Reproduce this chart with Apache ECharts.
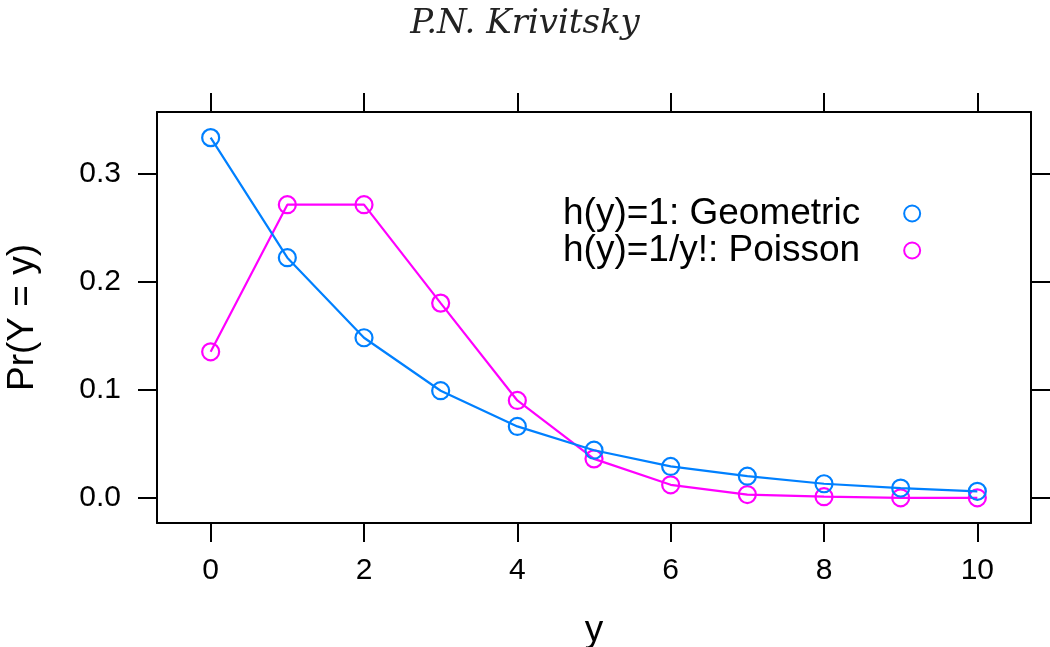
<!DOCTYPE html>
<html>
<head>
<meta charset="utf-8">
<script src="https://cdn.jsdelivr.net/npm/echarts@6/dist/echarts.min.js"></script>
<style>
  html, body { margin: 0; padding: 0; background: #fff; }
  #chart { width: 1050px; height: 647px; }
</style>
</head>
<body>
<div id="chart"></div>
<script>
const titleText = 'P.N. Krivitsky';
const yValues = [0, 1, 2, 3, 4, 5, 6, 7, 8, 9, 10];
const geometricName = 'h(y)=1: Geometric';
const poissonName = 'h(y)=1/y!: Poisson';
const geometric = [0.333, 0.222, 0.148, 0.099, 0.066, 0.044, 0.029, 0.020, 0.013, 0.009, 0.006];
const poisson = [0.135, 0.271, 0.271, 0.180, 0.090, 0.036, 0.012, 0.003, 0.001, 0.000, 0.000];
const xTicks = [0, 2, 4, 6, 8, 10];
const yTicks = [0, 0.1, 0.2, 0.3];
const xLabel = 'y';
const yLabel = 'Pr(Y = y)';

const blue = '#0080ff';
const magenta = '#ff00ff';
const fontFam = '"Liberation Sans", Arial, Helvetica, sans-serif';

const xRange = { min: -0.7, max: 10.7 };
const yRange = { min: -0.0233, max: 0.3567 };

const axisLineStyle = { show: true, onZero: false, lineStyle: { color: '#000', width: 2 } };
const tickStyle = { length: 19, lineStyle: { color: '#000', width: 2 } };

const chart = echarts.init(document.getElementById('chart'), null, { renderer: 'canvas' });

chart.setOption({
  animation: false,
  backgroundColor: '#fff',
  title: {
    text: titleText,
    left: 'center',
    top: 2,
    textStyle: { fontFamily: '"DejaVu Serif", serif', fontStyle: 'italic', fontWeight: 'normal', fontSize: 34, color: '#222' }
  },
  grid: { left: 157, right: 19, top: 112, bottom: 124, containLabel: false, outerBoundsMode: 'none' },
  legend: {
    orient: 'vertical',
    left: 558,
    top: 190,
    align: 'right',
    icon: 'circle',
    itemWidth: 94,
    itemHeight: 16,
    itemGap: 0,
    textStyle: { fontFamily: fontFam, fontSize: 37, color: '#000', lineHeight: 37 },
    data: [
      { name: geometricName, itemStyle: { color: 'transparent', borderColor: blue, borderWidth: 2 } },
      { name: poissonName, itemStyle: { color: 'transparent', borderColor: magenta, borderWidth: 2 } }
    ]
  },
  xAxis: [
    {
      type: 'value', position: 'bottom', min: xRange.min, max: xRange.max,
      axisLine: axisLineStyle,
      axisTick: Object.assign({ customValues: xTicks }, tickStyle),
      axisLabel: { customValues: xTicks, margin: 33, fontFamily: fontFam, fontSize: 30, color: '#000' },
      splitLine: { show: false },
      name: xLabel, nameLocation: 'middle', nameGap: 89,
      nameTextStyle: { fontFamily: fontFam, fontSize: 37, color: '#000' }
    },
    {
      type: 'value', position: 'top', min: xRange.min, max: xRange.max,
      axisLine: axisLineStyle,
      axisTick: Object.assign({ customValues: xTicks }, tickStyle),
      axisLabel: { show: false },
      splitLine: { show: false }
    }
  ],
  yAxis: [
    {
      type: 'value', position: 'left', min: yRange.min, max: yRange.max,
      axisLine: axisLineStyle,
      axisTick: Object.assign({ customValues: yTicks }, tickStyle),
      axisLabel: { customValues: yTicks, margin: 36, fontFamily: fontFam, fontSize: 30, color: '#000',
        formatter: v => v.toFixed(1) },
      splitLine: { show: false },
      name: yLabel, nameLocation: 'middle', nameGap: 116, nameRotate: 90,
      nameTextStyle: { fontFamily: fontFam, fontSize: 37, color: '#000' }
    },
    {
      type: 'value', position: 'right', min: yRange.min, max: yRange.max,
      axisLine: axisLineStyle,
      axisTick: Object.assign({ customValues: yTicks }, tickStyle),
      axisLabel: { show: false },
      splitLine: { show: false }
    }
  ],
  series: [
    {
      name: geometricName, type: 'line', xAxisIndex: 0, yAxisIndex: 0,
      data: yValues.map((y, i) => [y, geometric[i]]),
      symbol: 'circle', symbolSize: 17,
      itemStyle: { color: 'transparent', borderColor: blue, borderWidth: 2.2 },
      lineStyle: { color: blue, width: 2.2 },
      z: 3
    },
    {
      name: poissonName, type: 'line', xAxisIndex: 0, yAxisIndex: 0,
      data: yValues.map((y, i) => [y, poisson[i]]),
      symbol: 'circle', symbolSize: 17,
      itemStyle: { color: 'transparent', borderColor: magenta, borderWidth: 2.2 },
      lineStyle: { color: magenta, width: 2.2 },
      z: 2
    }
  ]
});
</script>
</body>
</html>
